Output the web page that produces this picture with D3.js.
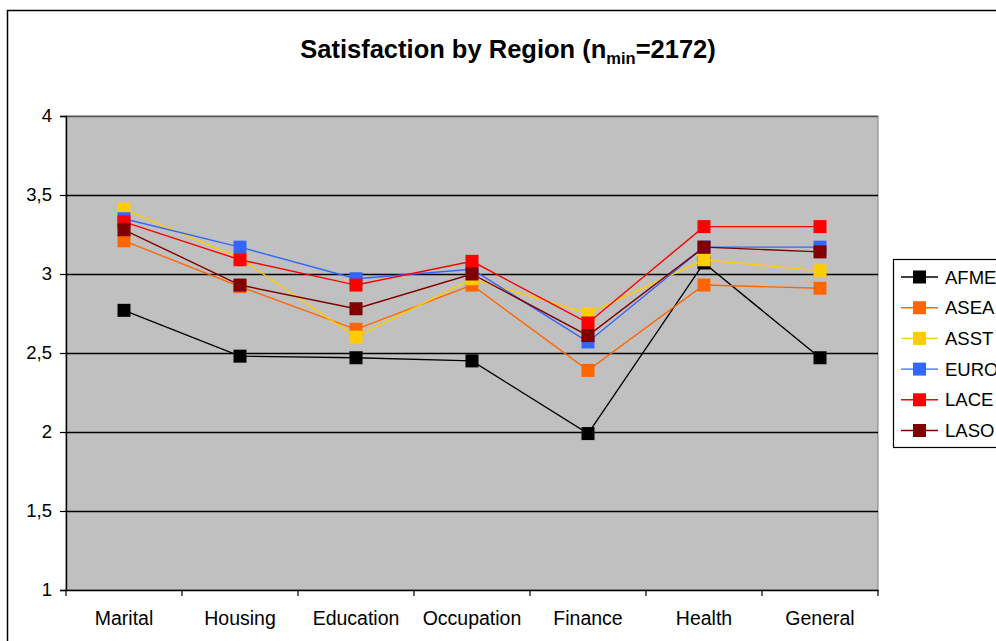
<!DOCTYPE html>
<html><head><meta charset="utf-8">
<script src="https://cdn.jsdelivr.net/npm/d3@7"></script>
<style>
html,body{margin:0;padding:0;background:#fff;}
svg{display:block;font-family:"Liberation Sans",Arial,sans-serif;}
</style></head>
<body>
<script>
const categories = ["Marital","Housing","Education","Occupation","Finance","Health","General"];
const seriesNames = ["AFME","ASEA","ASST","EURO","LACE","LASO"];
const seriesColors = ["#000000","#FF6600","#FFCC00","#3366FF","#FF0000","#800000"];
const AFME = [2.77, 2.48, 2.47, 2.45, 1.99, 3.07, 2.47];
const ASEA = [3.21, 2.92, 2.65, 2.93, 2.39, 2.93, 2.91];
const ASST = [3.41, 3.10, 2.60, 2.97, 2.75, 3.09, 3.02];
const EURO = [3.35, 3.17, 2.97, 3.03, 2.57, 3.17, 3.17];
const LACE = [3.33, 3.09, 2.93, 3.08, 2.69, 3.30, 3.30];
const LASO = [3.28, 2.93, 2.78, 3.00, 2.61, 3.17, 3.14];
const yTicks = [1, 1.5, 2, 2.5, 3, 3.5, 4];
const seriesValues = [AFME, ASEA, ASST, EURO, LACE, LASO];

(function () {
const W = 996, H = 641;
const svg = d3.select("body").append("svg").attr("width", W).attr("height", H);

// outer chart frame
svg.append("rect").attr("x", 7.5).attr("y", 10.5).attr("width", 1100).attr("height", 1000)
  .attr("fill", "#fff").attr("stroke", "#000").attr("stroke-width", 1.5);

const pL = 66, pR = 878, pT = 116, pB = 590;
const x = d3.scaleBand().domain(categories).range([pL, pR]).padding(0);
const y = d3.scaleLinear().domain([1, 4]).range([pB, pT]);

// plot background
svg.append("rect").attr("x", pL).attr("y", pT).attr("width", pR - pL).attr("height", pB - pT)
  .attr("fill", "#C0C0C0").attr("stroke", "#808080").attr("stroke-width", 1);

// gridlines
svg.append("g").selectAll("line").data(yTicks.filter(d => d > 1)).join("line")
  .attr("x1", pL).attr("x2", pR)
  .attr("y1", d => Math.round(y(d)) + 0.5).attr("y2", d => Math.round(y(d)) + 0.5)
  .attr("stroke", d => d === 4 ? "#555" : "#000").attr("stroke-width", 1.4);

// y axis
const yAxis = d3.axisLeft(y).tickValues(yTicks).tickSize(6).tickPadding(8)
  .tickFormat(d => String(d).replace(".", ","));
const gy = svg.append("g").attr("transform", `translate(${pL},0)`).call(yAxis);
gy.select(".domain").attr("stroke", "#000").attr("stroke-width", 1.4);
gy.selectAll(".tick line").attr("stroke", "#000").attr("stroke-width", 1.2);
gy.selectAll(".tick text").attr("font-size", 18.5).attr("fill", "#000")
  .attr("font-family", "Liberation Sans, Arial, sans-serif");

// x axis
const xAxis = d3.axisBottom(x).tickSize(0).tickPadding(17);
const gx = svg.append("g").attr("transform", `translate(0,${pB})`).call(xAxis);
gx.select(".domain").attr("stroke", "#000").attr("stroke-width", 1.4);
gx.selectAll(".tick text").attr("font-size", 19.5).attr("fill", "#000")
  .attr("font-family", "Liberation Sans, Arial, sans-serif").attr("dy", "0.9em");
// boundary tick marks
const bounds = categories.map(c => x(c)).concat([pR]);
svg.append("g").selectAll("line").data(bounds).join("line")
  .attr("x1", d => d).attr("x2", d => d).attr("y1", pB).attr("y2", pB + 6)
  .attr("stroke", "#000").attr("stroke-width", 1.2);

// series
const cx = c => x(c) + x.bandwidth() / 2;
const line = d3.line().x((d, i) => cx(categories[i])).y(d => y(d));
const ms = 13;
seriesValues.forEach((vals, si) => {
  const g = svg.append("g");
  g.append("path").datum(vals).attr("d", line).attr("fill", "none")
    .attr("stroke", seriesColors[si]).attr("stroke-width", 1.4);
  g.selectAll("rect").data(vals).join("rect")
    .attr("x", (d, i) => cx(categories[i]) - ms / 2).attr("y", d => y(d) - ms / 2)
    .attr("width", ms).attr("height", ms).attr("fill", seriesColors[si]);
});

// title
const title = svg.append("text").attr("x", 508).attr("y", 58).attr("text-anchor", "middle")
  .attr("font-size", 25.5).attr("font-weight", "bold").attr("fill", "#000");
title.append("tspan").text("Satisfaction by Region (n");
title.append("tspan").attr("font-size", 16.5).attr("dy", 6).text("min");
title.append("tspan").attr("dy", -6).text("=2172)");

// legend
const lg = svg.append("g");
const lx = 893, ly = 259, step = 30.7;
lg.append("rect").attr("x", lx + 0.5).attr("y", ly + 0.5).attr("width", 200).attr("height", 188)
  .attr("fill", "#fff").attr("stroke", "#000").attr("stroke-width", 1.2);
seriesNames.forEach((n, i) => {
  const yy = 277 + i * step;
  lg.append("line").attr("x1", 901).attr("x2", 938).attr("y1", yy).attr("y2", yy)
    .attr("stroke", seriesColors[i]).attr("stroke-width", 1.4);
  lg.append("rect").attr("x", 919.5 - ms / 2).attr("y", yy - ms / 2).attr("width", ms).attr("height", ms)
    .attr("fill", seriesColors[i]);
  lg.append("text").attr("x", 945).attr("y", yy).attr("dy", "0.36em").attr("font-size", 18.5)
    .attr("fill", "#000").text(n);
});
})();
</script>
</body></html>
